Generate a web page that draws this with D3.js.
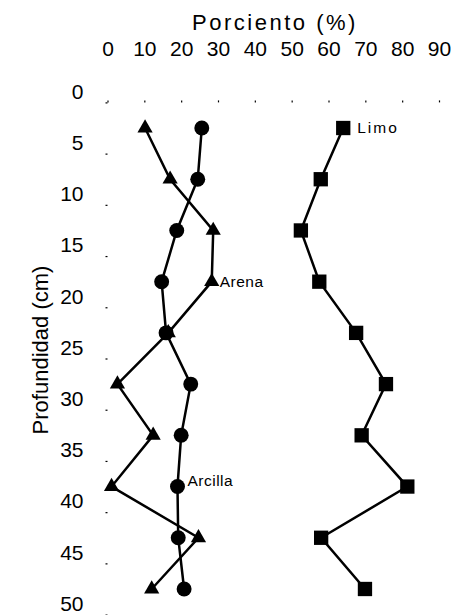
<!DOCTYPE html>
<html>
<head>
<meta charset="utf-8">
<script src="https://cdn.jsdelivr.net/npm/d3@7"></script>
<style>
  body { margin: 0; background: #fff; }
  svg { display: block; font-family: "Liberation Sans", Arial, sans-serif; }
</style>
</head>
<body>
<svg id="chart" width="453" height="615"></svg>
<script>
// soil texture profile: percent of clay, sand and silt by depth

//data
const depths = [2.5, 7.5, 12.5, 17.5, 22.5, 27.5, 32.5, 37.5, 42.5, 47.5];
const arcilla = [25.6, 24.5, 18.8, 14.7, 15.9, 22.6, 20.0, 19.0, 19.2, 20.8];
const arena = [10.2, 17.0, 28.7, 28.3, 16.5, 2.7, 12.4, 1.1, 24.7, 12.0];
const limo = [64.0, 57.9, 52.5, 57.5, 67.5, 75.6, 69.0, 81.4, 58.0, 69.9];
const xTicks = [0, 10, 20, 30, 40, 50, 60, 70, 80, 90];
const yTicks = [0, 5, 10, 15, 20, 25, 30, 35, 40, 45, 50];

const svg = d3.select('#chart');

const xScale = d3.scaleLinear().domain([0, 90]).range([107.5, 439]);
const yScale = d3.scaleLinear().domain([0, 50]).range([102.4, 614.6]);

//top axis with the percent labels
const xAxis = svg.append('g')
    .attr('transform', `translate(0, ${yScale(0)})`)
    .call(d3.axisTop(xScale).tickValues(xTicks).tickSize(2).tickPadding(44));
xAxis.select('.domain').remove();
xAxis.selectAll('text')
    .attr('font-size', '21px')
    .attr('font-family', '"Liberation Sans", Arial, sans-serif')
    .attr('fill', '#000');

//left axis with depth, labels sit a bit above their ticks
const yAxis = svg.append('g')
    .attr('transform', `translate(${xScale(0)}, 0)`)
    .call(d3.axisLeft(yScale).tickValues(yTicks).tickSize(2).tickPadding(22));
yAxis.select('.domain').remove();
yAxis.selectAll('text')
    .attr('font-size', '21px')
    .attr('font-family', '"Liberation Sans", Arial, sans-serif')
    .attr('fill', '#000')
    .attr('dy', '-0.2em');
svg.selectAll('.tick line').attr('stroke', '#000').attr('stroke-width', 1.2);

//axis titles
svg.append('text')
    .attr('x', 275)
    .attr('y', 30)
    .attr('text-anchor', 'middle')
    .attr('font-size', '22px')
    .attr('letter-spacing', '2.5px')
    .text('Porciento (%)');

svg.append('text')
    .attr('transform', 'translate(48, 350) rotate(-90)')
    .attr('text-anchor', 'middle')
    .attr('font-size', '22px')
    .text('Profundidad (cm)');

//one line plus markers for each fraction
const series = [
    { name: 'Arcilla', values: arcilla, symbol: d3.symbolCircle, size: 175 },
    { name: 'Arena', values: arena, symbol: d3.symbolTriangle, size: 100 },
    { name: 'Limo', values: limo, symbol: d3.symbolSquare, size: 205 }
];

const line = d3.line()
    .x(d => xScale(d[0]))
    .y(d => yScale(d[1]));

series.forEach(s => {
    const pts = s.values.map((v, i) => [v, depths[i]]);

    svg.append('path')
        .datum(pts)
        .attr('fill', 'none')
        .attr('stroke', '#000')
        .attr('stroke-width', 2.5)
        .attr('d', line);

    svg.selectAll(null)
        .data(pts)
        .enter()
        .append('path')
            .attr('transform', d => `translate(${xScale(d[0])}, ${yScale(d[1])})`)
            .attr('d', d3.symbol().type(s.symbol).size(s.size))
            .attr('fill', '#000');
});

//series names next to a point
const labels = [
    { text: 'Limo', values: limo, idx: 0, dx: 14, dy: 5, spacing: 2 },
    { text: 'Arena', values: arena, idx: 3, dx: 8, dy: 5, spacing: 0.5 },
    { text: 'Arcilla', values: arcilla, idx: 7, dx: 10, dy: -1, spacing: 0.5 }
];

labels.forEach(l => {
    svg.append('text')
        .attr('x', xScale(l.values[l.idx]) + l.dx)
        .attr('y', yScale(depths[l.idx]) + l.dy)
        .attr('font-size', '15.5px')
        .attr('letter-spacing', l.spacing + 'px')
        .text(l.text);
});
</script>
</body>
</html>
